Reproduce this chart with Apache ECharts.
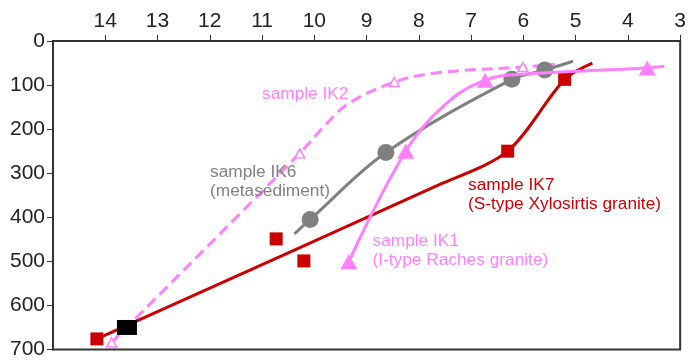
<!DOCTYPE html>
<html>
<head>
<meta charset="utf-8">
<script src="https://cdn.jsdelivr.net/npm/echarts@6/dist/echarts.min.js"></script>
<style>
html,body{margin:0;padding:0;background:#fff;}
#chart{width:689px;height:360px;}
</style>
</head>
<body>
<div id="chart"></div>
<script>
// ---- data (x = value on top axis, y = depth) ----
const ik7Line   = [[14.16,676],[7.63,327],[6.30,250],[5.21,87],[4.68,50]];
const ik7Points = [[14.16,676],[10.73,449],[10.20,499],[6.30,250],[5.21,87]];
const blackPoint = [[13.585,650]];
const ik6Line   = [[10.38,438],[10.08,405],[8.63,253],[6.22,87],[5.59,66],[5.05,46]];
const ik6Points = [[10.08,405],[8.63,253],[6.22,87],[5.59,66]];
const ik1Line   = [[9.34,501],[8.25,250],[7.45,139],[6.73,89],[6.12,76],[3.63,61],[3.30,57]];
const ik1Points = [[9.34,501],[8.25,250],[6.73,89],[3.63,61]];
const ik2Line   = [[13.88,684],[10.28,255],[9.80,192],[9.36,143],[8.47,93],[7.64,72],[6.01,59],[5.40,53]];
const ik2Points = [[13.88,684],[10.28,255],[8.47,93],[6.01,59]];

const RED = '#cc0000', GREY = '#808080', PINK = '#ff80ff';
const FONT = 'Liberation Sans, Arial, sans-serif';

const chart = echarts.init(document.getElementById('chart'), null, {renderer: 'canvas'});

function txt(text, x, y, color) {
  return {type: 'text', x: x, y: y, z: 100, scaleX: 1.08,
    style: {text: text, fill: color, font: '16px ' + FONT, align: 'left', verticalAlign: 'middle'}};
}

chart.setOption({
  animation: false,
  backgroundColor: '#fff',
  grid: {left: 53, right: 6, top: 41, bottom: 6, show: true, borderColor: '#333', borderWidth: 2},
  xAxis: {
    type: 'value', position: 'top', inverse: true, min: 3, max: 15, interval: 1,
    axisLine: {show: true, lineStyle: {color: '#333', width: 2}},
    axisTick: {show: true, length: 6, lineStyle: {color: '#333', width: 1}},
    axisLabel: {show: true, showMaxLabel: false, margin: 9, color: '#222', fontSize: 21, fontFamily: FONT},
    splitLine: {show: false}
  },
  yAxis: {
    type: 'value', inverse: true, min: 0, max: 700, interval: 100,
    axisLine: {show: true, lineStyle: {color: '#333', width: 2}},
    axisTick: {show: true, length: 6, lineStyle: {color: '#333', width: 1}},
    axisLabel: {show: true, margin: 8, color: '#222', fontSize: 21, fontFamily: FONT},
    splitLine: {show: false}
  },
  series: [
    {type: 'line', data: ik2Line, smooth: 0.35, showSymbol: false, z: 2,
      lineStyle: {color: PINK, width: 3, type: [11, 6]}},
    {type: 'scatter', data: ik2Points, symbol: 'triangle', symbolSize: [10, 9], z: 3,
      itemStyle: {color: '#fff', borderColor: PINK, borderWidth: 1.5, opacity: 1}},
    {type: 'line', data: ik6Line, smooth: 0.35, showSymbol: false, z: 4,
      lineStyle: {color: GREY, width: 3}},
    {type: 'scatter', data: ik6Points, symbol: 'circle', symbolSize: 17, z: 5,
      itemStyle: {color: GREY, opacity: 1}},
    {type: 'line', data: ik7Line, smooth: 0.3, showSymbol: false, z: 6,
      lineStyle: {color: RED, width: 3}},
    {type: 'scatter', data: ik7Points, symbol: 'rect', symbolSize: 13, z: 7,
      itemStyle: {color: RED, opacity: 1}},
    {type: 'scatter', data: blackPoint, symbol: 'rect', symbolSize: [20, 15], z: 7,
      itemStyle: {color: '#000', opacity: 1}},
    {type: 'line', data: ik1Line, smooth: 0.4, showSymbol: false, z: 8,
      lineStyle: {color: PINK, width: 3}},
    {type: 'scatter', data: ik1Points, symbol: 'triangle', symbolSize: [17, 15], z: 9,
      itemStyle: {color: PINK, opacity: 1}}
  ],
  graphic: [
    txt('sample IK2', 262, 95, PINK),
    txt('sample IK6', 210, 172.5, GREY),
    txt('(metasediment)', 210, 191.5, GREY),
    txt('sample IK7', 468, 185.5, RED),
    txt('(S-type Xylosirtis granite)', 468, 205, RED),
    txt('sample IK1', 372.5, 241.5, PINK),
    txt('(I-type Raches granite)', 372.5, 261, PINK)
  ]
});
</script>
</body>
</html>
